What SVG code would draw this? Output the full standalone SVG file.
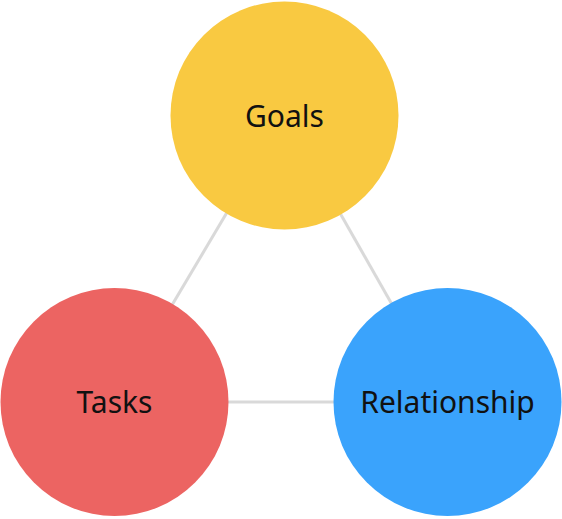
<svg xmlns="http://www.w3.org/2000/svg" width="562" height="519" viewBox="0 0 562 519">
<style>
.edge{stroke:#d9d9d9;stroke-width:3;fill:none}
.lbl{font-family:"Noto Sans","Lato",sans-serif;font-size:30px;fill:#111;text-anchor:middle}
</style>
<rect width="562" height="519" fill="#fff"/>
<g id="connectors">
<line class="edge" x1="284.5" y1="115.5" x2="114.5" y2="402"/>
<line class="edge" x1="284.5" y1="115.5" x2="447.5" y2="402"/>
<line class="edge" x1="114.5" y1="402" x2="447.5" y2="402"/>
</g>
<g id="goals">
<circle cx="284.5" cy="115.5" r="114" fill="#F9C941"/>
<text class="lbl" x="284.5" y="127">Goals</text>
</g>
<g id="tasks">
<circle cx="114.5" cy="402" r="114" fill="#EC6462"/>
<text class="lbl" x="114.5" y="413">Tasks</text>
</g>
<g id="relationship">
<circle cx="447.5" cy="402" r="114" fill="#3AA3FC"/>
<text class="lbl" x="447.5" y="413">Relationship</text>
</g>
</svg>
